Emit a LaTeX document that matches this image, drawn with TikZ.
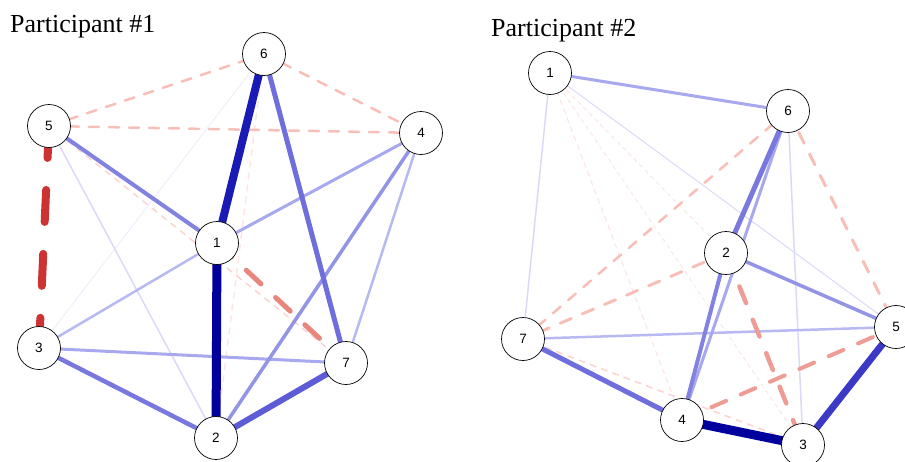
\documentclass[tikz,border=0pt]{standalone}
\usepackage{fontspec}
\setmainfont{Liberation Serif}
\newfontfamily\nodefont{Liberation Sans}
\definecolor{bA}{HTML}{00009C}
\definecolor{bB}{HTML}{1A1AB4}
\definecolor{bC}{HTML}{3A3AC6}
\definecolor{bD}{HTML}{5C5CD6}
\definecolor{bE}{HTML}{6E6EDC}
\definecolor{bF}{HTML}{7878DE}
\definecolor{bG}{HTML}{8282E0}
\definecolor{bH}{HTML}{9494E6}
\definecolor{bI}{HTML}{A8A8EE}
\definecolor{bJ}{HTML}{B8B8F2}
\definecolor{bK}{HTML}{DADAF8}
\definecolor{bL}{HTML}{EEEEFC}
\definecolor{rA}{HTML}{CC3333}
\definecolor{rB}{HTML}{E8857C}
\definecolor{rC}{HTML}{EE9C94}
\definecolor{rD}{HTML}{F8BEB8}
\definecolor{rE}{HTML}{FAD4D0}
\definecolor{rF}{HTML}{FCE6E4}
\tikzset{
  nd/.style={circle, draw=black, line width=0.7pt, fill=white, minimum size=43pt, inner sep=0pt, font=\nodefont\fontsize{13.5}{14}\selectfont},
  ps/.style={line width=#1pt},
  ng/.code={\pgfmathsetmacro\dl{4*#1}\tikzset{line width=#1pt, line cap=round, dash pattern=on \dl pt off \dl pt}},
  ttl/.style={anchor=base west, inner sep=0pt, font=\fontsize{26}{28}\selectfont}
}
\begin{document}
\begin{tikzpicture}[x=1pt, y=-1pt]
\useasboundingbox (0,0) rectangle (905,461);
\clip (0,0) rectangle (905,461);
% Participant 1 node positions
\coordinate (a1) at (217,243);
\coordinate (a2) at (216,438);
\coordinate (a3) at (39,348);
\coordinate (a4) at (421,133);
\coordinate (a5) at (49,126);
\coordinate (a6) at (264,54);
\coordinate (a7) at (346,363);
% Participant 2 node positions
\coordinate (b1) at (550,73);
\coordinate (b2) at (726,253);
\coordinate (b3) at (803,445);
\coordinate (b4) at (682,420);
\coordinate (b5) at (896,327);
\coordinate (b6) at (788,111);
\coordinate (b7) at (523,339);

\node[ttl] (t1) at (10,32) {Participant \#1};
\node[ttl] (t2) at (491,36) {Participant \#2};

% Participant 1 edges (weak first)
\draw[ps=1, bL] (a6) -- (a3);
\draw[ng=1.5, rF] (a6) -- (a2);
\draw[ps=1.5, bK] (a5) -- (a2);
\draw[ng=1.5, rE] (a5) -- (a7);
\draw[ps=2.5, bJ] (a4) -- (a7);
\draw[ps=2.5, bJ] (a1) -- (a3);
\draw[ng=2.5, rD] (a5) -- (a6);
\draw[ng=2.5, rD] (a5) -- (a4);
\draw[ng=2.5, rD] (a6) -- (a4);
\draw[ps=3, bI] (a4) -- (a1);
\draw[ps=3, bI] (a3) -- (a7);
\draw[ps=3.5, bH] (a4) -- (a2);
\draw[ps=4, bG] (a5) -- (a1);
\draw[ps=4.5, bF] (a3) -- (a2);
\draw[ng=5, rB] (a1) -- (a7);
\draw[ps=5, bE] (a6) -- (a7);
\draw[ps=6, bD] (a7) -- (a2);
\draw[ng=8, rA] (a5) -- (a3);
\draw[ps=8, bB] (a6) -- (a1);
\draw[ps=9, bA] (a1) -- (a2);

% Participant 2 edges (weak first)
\draw[ng=1, rF] (b1) -- (b2);
\draw[ng=1, rF] (b1) -- (b3);
\draw[ng=1.2, rF] (b1) -- (b4);
\draw[ps=1, bK] (b1) -- (b5);
\draw[ps=1.5, bK] (b1) -- (b7);
\draw[ps=1.5, bK] (b6) -- (b3);
\draw[ng=1.5, rE] (b7) -- (b3);
\draw[ps=2.5, bJ] (b7) -- (b5);
\draw[ng=2.5, rD] (b6) -- (b7);
\draw[ng=3, rD] (b2) -- (b7);
\draw[ng=3, rD] (b6) -- (b5);
\draw[ps=3, bI] (b1) -- (b6);
\draw[ps=3, bI] (b6) -- (b4);
\draw[ps=3.5, bH] (b2) -- (b5);
\draw[ng=4, rC] (b4) -- (b5);
\draw[ps=4, bG] (b2) -- (b4);
\draw[ng=4.5, rC] (b2) -- (b3);
\draw[ps=5, bF] (b6) -- (b2);
\draw[ps=5, bE] (b7) -- (b4);
\draw[ps=7, bC] (b3) -- (b5);
\draw[ps=9, bA] (b4) -- (b3);

% Nodes on top
\foreach \i in {1,...,7} {
  \node[nd] (na\i) at (a\i) {\i};
  \node[nd] (nb\i) at (b\i) {\i};
}
\end{tikzpicture}
\end{document}
